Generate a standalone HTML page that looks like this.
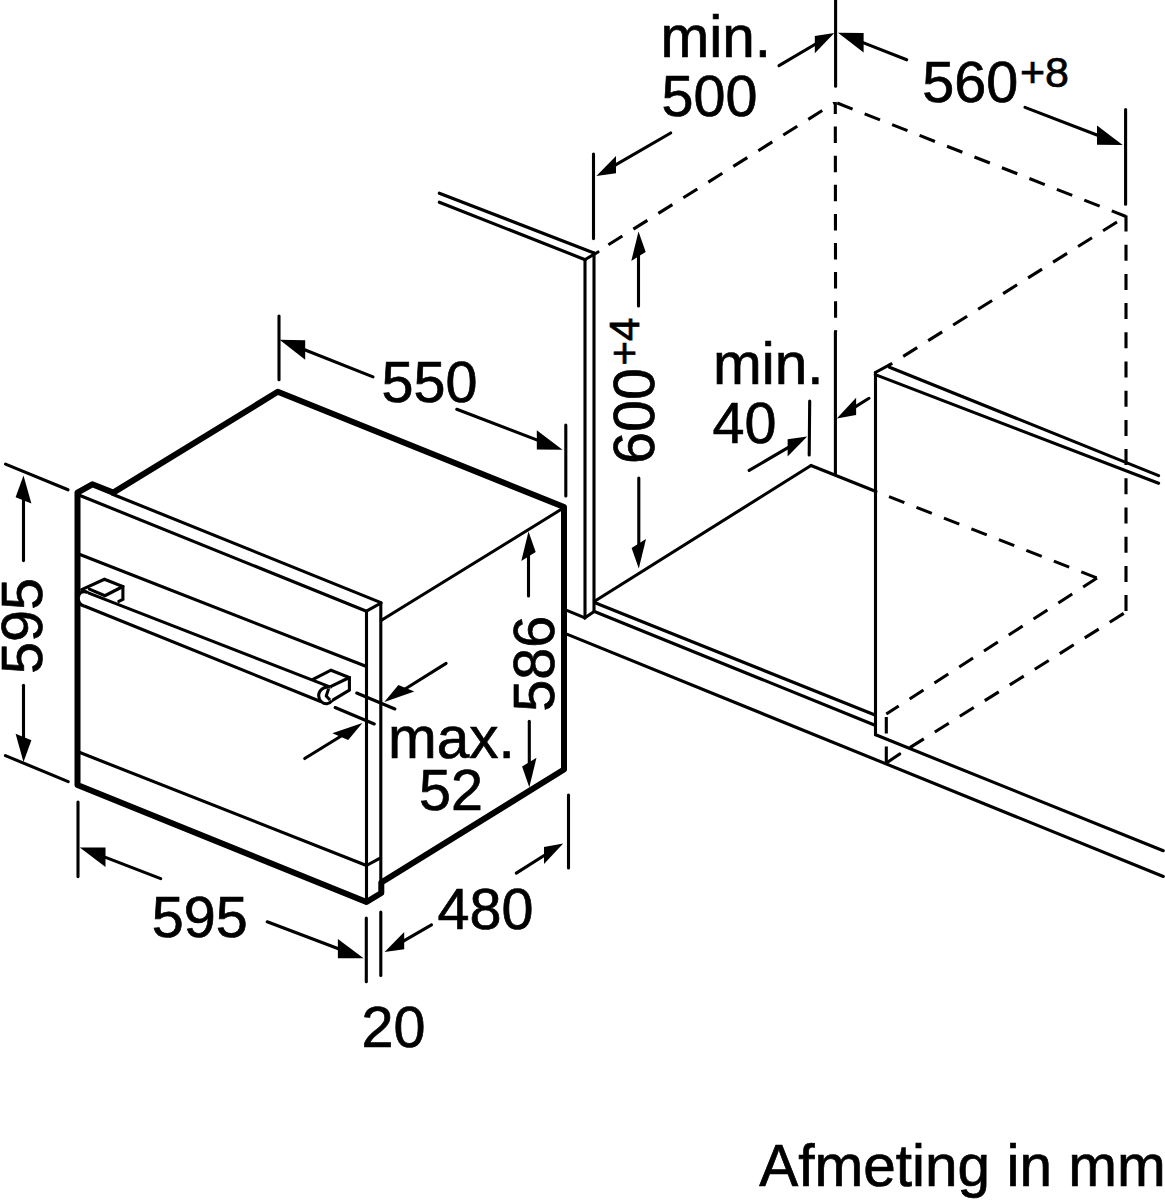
<!DOCTYPE html>
<html><head><meta charset="utf-8"><style>
html,body{margin:0;padding:0;background:#fff;width:1165px;height:1200px;overflow:hidden}
svg{display:block}
</style></head><body>
<svg width="1165" height="1200" viewBox="0 0 1165 1200" stroke="#000" fill="none" style="font-family:'Liberation Sans',sans-serif">
<g>
<path d="M77.5,785 L366.5,902 L381.3,893 L381.3,882.5 L564,769.5 L564,507 L277.8,391.8 L113.2,492.6 L92.3,484.3 L77.5,492.6 L77.5,785 Z" fill="none" stroke-width="6.0" stroke-linejoin="round" stroke-linecap="round"/>
<line x1="77.5" y1="494.5" x2="366.5" y2="611.2" stroke-width="3.1" stroke-linecap="round" />
<line x1="112.5" y1="494.2" x2="380.9" y2="602.6" stroke-width="3.1" stroke-linecap="round" />
<line x1="366.5" y1="611.2" x2="381" y2="603" stroke-width="3.1" stroke-linecap="round" />
<line x1="366.5" y1="611.2" x2="366.5" y2="902" stroke-width="3.1" stroke-linecap="round" />
<line x1="380.8" y1="603" x2="380.8" y2="885" stroke-width="3.1" stroke-linecap="round" />
<line x1="381.4" y1="620.3" x2="563" y2="508.3" stroke-width="3.1" stroke-linecap="round" />
<line x1="78" y1="553.8" x2="366.5" y2="666.5" stroke-width="3.1" stroke-linecap="round" />
<line x1="78" y1="751.8" x2="366.5" y2="865.5" stroke-width="3.1" stroke-linecap="round" />
<line x1="366.5" y1="865.5" x2="380.6" y2="857.8" stroke-width="3.1" stroke-linecap="round" />
<line x1="85" y1="591.6" x2="330.5" y2="687.1" stroke-width="3.1" stroke-linecap="round" />
<line x1="82.4" y1="605.3" x2="320.6" y2="701.5" stroke-width="3.1" stroke-linecap="round" />
<path d="M88,592.6 C82,590 78.5,593 78.3,598 C78.2,602.5 80,605 84,606" fill="#fff" stroke-width="3.1"/>
<path d="M81.7,589.6 L104.4,579.3 L122.9,586.5 L122.9,599.4 L118.8,601.4" fill="none" stroke-width="3.1" stroke-linejoin="miter" stroke-linecap="round"/>
<path d="M89.4,589.1 L104.9,595.7 L122.9,586.5" fill="none" stroke-width="3.1" stroke-linejoin="miter" stroke-linecap="round"/>
<path d="M313,679.4 L331,670.2 L349.4,677.5 L349.4,690.2 L331.9,700.6" fill="none" stroke-width="3.1" stroke-linejoin="miter" stroke-linecap="round"/>
<line x1="349.4" y1="677.5" x2="330.5" y2="686.7" stroke-width="3.1" stroke-linecap="round" />
<path d="M330.5,687.1 C324,686 318.5,690 318.7,696 C319,701 323,704 327,703.8 C329,703.6 330.5,702.5 331.9,700.6" fill="#fff" stroke-width="3.1"/>
<path d="M328.6,688.8 L326.2,695.9 L330,700.1" fill="none" stroke-width="3" stroke-linejoin="round"/>
<line x1="439.3" y1="193.2" x2="594" y2="253" stroke-width="3.1" stroke-linecap="round" />
<line x1="439.3" y1="202.2" x2="585.2" y2="259.7" stroke-width="3.1" stroke-linecap="round" />
<line x1="585.2" y1="259.5" x2="598" y2="252" stroke-width="3.1" stroke-linecap="round" />
<line x1="585" y1="259.5" x2="585" y2="618" stroke-width="3.1" stroke-linecap="round" />
<line x1="594" y1="253" x2="594" y2="611.5" stroke-width="3.1" stroke-linecap="round" />
<line x1="584.6" y1="618" x2="593.8" y2="611.8" stroke-width="3.1" stroke-linecap="round" />
<line x1="595" y1="601" x2="811" y2="465.5" stroke-width="3.1" stroke-linecap="round" />
<line x1="811" y1="465.5" x2="876" y2="491.5" stroke-width="3.1" stroke-linecap="round" />
<line x1="595" y1="602.8" x2="875" y2="715" stroke-width="3.1" stroke-linecap="round" />
<line x1="595" y1="611.8" x2="875" y2="725.2" stroke-width="3.1" stroke-linecap="round" />
<line x1="567.4" y1="610.6" x2="584.4" y2="617.6" stroke-width="3.1" stroke-linecap="round" />
<line x1="567.4" y1="634.4" x2="1163.3" y2="876.5" stroke-width="3.1" stroke-linecap="round" />
<line x1="875.5" y1="372.5" x2="875.5" y2="734.8" stroke-width="3.1" stroke-linecap="round" />
<line x1="875.3" y1="372.5" x2="889.5" y2="364.8" stroke-width="3.1" stroke-linecap="round" />
<line x1="889.5" y1="367.2" x2="1158.6" y2="475.6" stroke-width="3.1" stroke-linecap="round" />
<line x1="875.3" y1="374.6" x2="1158.6" y2="483.3" stroke-width="3.1" stroke-linecap="round" />
<line x1="875.7" y1="734.8" x2="1163.3" y2="850.7" stroke-width="3.1" stroke-linecap="round" />
<line x1="886.3" y1="763" x2="899.7" y2="754" stroke-width="3.1" stroke-linecap="round" />
<line x1="835.6" y1="0" x2="835.6" y2="86.3" stroke-width="3.1" stroke-linecap="round" />
<line x1="835.4" y1="332" x2="835.4" y2="474.2" stroke-width="3.1" stroke-linecap="round" />
<line x1="593.5" y1="154" x2="593.5" y2="238.6" stroke-width="3.1" stroke-linecap="round" />
<line x1="1125.6" y1="109.5" x2="1125.6" y2="204.3" stroke-width="3.1" stroke-linecap="round" />
<line x1="809.7" y1="401" x2="809.2" y2="455" stroke-width="3.1" stroke-linecap="round" />
<line x1="608.4" y1="244.8" x2="834.3" y2="103" stroke-width="3.1" stroke-linecap="butt" stroke-dasharray="16.5 13" stroke-dashoffset="0"/>
<line x1="835.3" y1="102" x2="835.6" y2="332" stroke-width="3.1" stroke-linecap="butt" stroke-dasharray="16.5 12.6" stroke-dashoffset="4.5"/>
<line x1="835.8" y1="102.5" x2="1126" y2="216.5" stroke-width="3.1" stroke-linecap="butt" stroke-dasharray="16.5 13" stroke-dashoffset="-1.5"/>
<line x1="1126" y1="215.5" x2="1126" y2="612" stroke-width="3.1" stroke-linecap="butt" stroke-dasharray="16 13.2" stroke-dashoffset="0"/>
<line x1="1117" y1="222" x2="889.5" y2="365" stroke-width="3.1" stroke-linecap="butt" stroke-dasharray="16.5 13" stroke-dashoffset="0"/>
<line x1="889" y1="496.6" x2="1097" y2="578" stroke-width="3.1" stroke-linecap="butt" stroke-dasharray="16.5 13" stroke-dashoffset="0"/>
<line x1="1097" y1="578" x2="886.3" y2="714" stroke-width="3.1" stroke-linecap="butt" stroke-dasharray="16.5 13" stroke-dashoffset="0"/>
<line x1="1126" y1="612" x2="899.7" y2="754" stroke-width="3.1" stroke-linecap="butt" stroke-dasharray="16.5 13" stroke-dashoffset="26.8"/>
<line x1="886.3" y1="717" x2="886.3" y2="764" stroke-width="3.1" stroke-linecap="butt" stroke-dasharray="16.5 13" stroke-dashoffset="0"/>
<line x1="779" y1="65.7" x2="816.5" y2="43.5" stroke-width="3.1" stroke-linecap="round"/>
<path d="M834.3,33 L814.8,53.2 L814.8,36.0 Z" fill="#000" stroke="none"/>
<line x1="670.7" y1="133" x2="614.3" y2="165.6" stroke-width="3.1" stroke-linecap="round"/>
<path d="M596.4,176 L616.0,173.2 L616.0,156.0 Z" fill="#000" stroke="none"/>
<line x1="906.7" y1="59.8" x2="861.7" y2="42.1" stroke-width="3.1" stroke-linecap="round"/>
<path d="M838,32.7 L863.6,52.5 L863.6,33.1 Z" fill="#000" stroke="none"/>
<line x1="1025" y1="107.4" x2="1098.9" y2="135.8" stroke-width="3.1" stroke-linecap="round"/>
<path d="M1122.7,145 L1097.0,144.8 L1097.0,125.4 Z" fill="#000" stroke="none"/>
<line x1="638.5" y1="306" x2="638.5" y2="254.4" stroke-width="3.1" stroke-linecap="round"/>
<path d="M638.5,231.4 L645.7,251.9 L631.3,260.9 Z" fill="#000" stroke="none"/>
<line x1="638.8" y1="478" x2="638.8" y2="545.4" stroke-width="3.1" stroke-linecap="round"/>
<path d="M638.8,568.4 L646.0,538.9 L631.6,547.9 Z" fill="#000" stroke="none"/>
<line x1="749.2" y1="470.4" x2="789.3" y2="446.9" stroke-width="3.1" stroke-linecap="round"/>
<path d="M807.2,436.4 L787.6,456.5 L787.6,439.3 Z" fill="#000" stroke="none"/>
<line x1="869" y1="398.3" x2="854.4" y2="407.4" stroke-width="3.1" stroke-linecap="round"/>
<path d="M836.8,418.4 L856.1,415.0 L856.1,397.8 Z" fill="#000" stroke="none"/>
<line x1="279" y1="316" x2="279" y2="379.7" stroke-width="3.1" stroke-linecap="round" />
<line x1="565.8" y1="425" x2="565.8" y2="496" stroke-width="3.1" stroke-linecap="round" />
<line x1="373" y1="376.9" x2="303.3" y2="349.2" stroke-width="3.1" stroke-linecap="round"/>
<path d="M279.6,339.8 L305.2,359.7 L305.2,340.3 Z" fill="#000" stroke="none"/>
<line x1="456.8" y1="409.3" x2="538.7" y2="440.6" stroke-width="3.1" stroke-linecap="round"/>
<path d="M562.5,449.7 L536.8,449.6 L536.8,430.2 Z" fill="#000" stroke="none"/>
<line x1="5.5" y1="464.1" x2="68" y2="489.8" stroke-width="3.1" stroke-linecap="round" />
<line x1="5.4" y1="755.6" x2="68.2" y2="781.6" stroke-width="3.1" stroke-linecap="round" />
<line x1="23.5" y1="560.6" x2="23.5" y2="498.4" stroke-width="3.1" stroke-linecap="round"/>
<path d="M23.5,475.4 L31.4,503.6 L15.6,497.2 Z" fill="#000" stroke="none"/>
<line x1="23.5" y1="685.2" x2="23.5" y2="739.0" stroke-width="3.1" stroke-linecap="round"/>
<path d="M23.5,762 L31.4,740.2 L15.6,733.8 Z" fill="#000" stroke="none"/>
<line x1="528.5" y1="596" x2="528.5" y2="554.5" stroke-width="3.1" stroke-linecap="round"/>
<path d="M528.5,531.5 L535.7,552.1 L521.3,560.9 Z" fill="#000" stroke="none"/>
<line x1="529.3" y1="721.3" x2="529.3" y2="764.2" stroke-width="3.1" stroke-linecap="round"/>
<path d="M529.3,787.2 L536.5,757.8 L522.1,766.6 Z" fill="#000" stroke="none"/>
<line x1="356.7" y1="693" x2="394.9" y2="709" stroke-width="3.1" stroke-linecap="round" />
<line x1="335.1" y1="707.5" x2="374.3" y2="724" stroke-width="3.1" stroke-linecap="round" />
<line x1="446.1" y1="663.4" x2="404.7" y2="689.3" stroke-width="3.1" stroke-linecap="round"/>
<path d="M384.3,702 L414.3,691.6 L398.4,684.9 Z" fill="#000" stroke="none"/>
<line x1="304.7" y1="758.5" x2="342.0" y2="735.5" stroke-width="3.1" stroke-linecap="round"/>
<path d="M362.4,722.9 L348.2,739.9 L332.3,733.2 Z" fill="#000" stroke="none"/>
<line x1="78" y1="802" x2="78" y2="876.6" stroke-width="3.1" stroke-linecap="round" />
<line x1="366.3" y1="918" x2="366.3" y2="981.8" stroke-width="3.1" stroke-linecap="round" />
<line x1="160.7" y1="878.6" x2="103.6" y2="856.6" stroke-width="3.1" stroke-linecap="round"/>
<path d="M79.8,847.4 L105.5,867.0 L105.5,847.6 Z" fill="#000" stroke="none"/>
<line x1="267.2" y1="921.8" x2="339.8" y2="949.3" stroke-width="3.1" stroke-linecap="round"/>
<path d="M363.6,958.3 L337.9,958.3 L337.9,938.9 Z" fill="#000" stroke="none"/>
<line x1="380.8" y1="912" x2="380.8" y2="975.5" stroke-width="3.1" stroke-linecap="round" />
<line x1="568.5" y1="795" x2="568.5" y2="868" stroke-width="3.1" stroke-linecap="round" />
<line x1="431.5" y1="924.9" x2="402.5" y2="941.7" stroke-width="3.1" stroke-linecap="round"/>
<path d="M384.6,952.1 L404.2,949.3 L404.2,932.1 Z" fill="#000" stroke="none"/>
<line x1="516.3" y1="873.1" x2="545.7" y2="854.5" stroke-width="3.1" stroke-linecap="round"/>
<path d="M563.2,843.4 L544.0,864.1 L544.0,846.9 Z" fill="#000" stroke="none"/>
<text fill="#000" stroke="#000" stroke-width="0.7" x="660.5" y="57" font-size="58.5" text-anchor="start">min.</text>
<text fill="#000" stroke="#000" stroke-width="0.7" x="661.5" y="115.5" font-size="57.5" text-anchor="start">500</text>
<text fill="#000" stroke="#000" stroke-width="0.7" x="922.2" y="102" font-size="57.5" text-anchor="start">560</text>
<text fill="#000" stroke="#000" stroke-width="0.7" x="1020" y="87" font-size="43" text-anchor="start">+8</text>
<text fill="#000" stroke="#000" stroke-width="0.7" x="713" y="384" font-size="58.5" text-anchor="start">min.</text>
<text fill="#000" stroke="#000" stroke-width="0.7" x="712.5" y="443" font-size="57.5" text-anchor="start">40</text>
<text fill="#000" stroke="#000" stroke-width="0.7" x="381.5" y="401.5" font-size="57.5" text-anchor="start">550</text>
<text fill="#000" stroke="#000" stroke-width="0.7" x="388" y="758" font-size="58.5" text-anchor="start">max.</text>
<text fill="#000" stroke="#000" stroke-width="0.7" x="419" y="809.5" font-size="57.5" text-anchor="start">52</text>
<text fill="#000" stroke="#000" stroke-width="0.7" x="151.8" y="937.3" font-size="57.5" text-anchor="start">595</text>
<text fill="#000" stroke="#000" stroke-width="0.7" x="437.5" y="929.3" font-size="57.5" text-anchor="start">480</text>
<text fill="#000" stroke="#000" stroke-width="0.7" x="361.5" y="1046.5" font-size="57.5" text-anchor="start">20</text>
<text fill="#000" stroke="#000" stroke-width="0.7" x="759.3" y="1186" font-size="58.5" text-anchor="start">Afmeting in mm</text>
<text fill="#000" stroke="#000" stroke-width="0.7" x="42" y="674" font-size="57.5" text-anchor="start" transform="rotate(-90 42 674)">595</text>
<text fill="#000" stroke="#000" stroke-width="0.7" x="654.3" y="464" font-size="57.5" text-anchor="start" transform="rotate(-90 654.3 464)">600</text>
<text fill="#000" stroke="#000" stroke-width="0.7" x="639" y="365.5" font-size="42" text-anchor="start" transform="rotate(-90 639 365.5)">+4</text>
<text fill="#000" stroke="#000" stroke-width="0.7" x="554" y="711.8" font-size="57.5" text-anchor="start" transform="rotate(-90 554 711.8)">586</text>
</g>
<g fill="#000" stroke="none" style="font-family:'Liberation Sans',sans-serif">
</g>
</svg>
</body></html>
